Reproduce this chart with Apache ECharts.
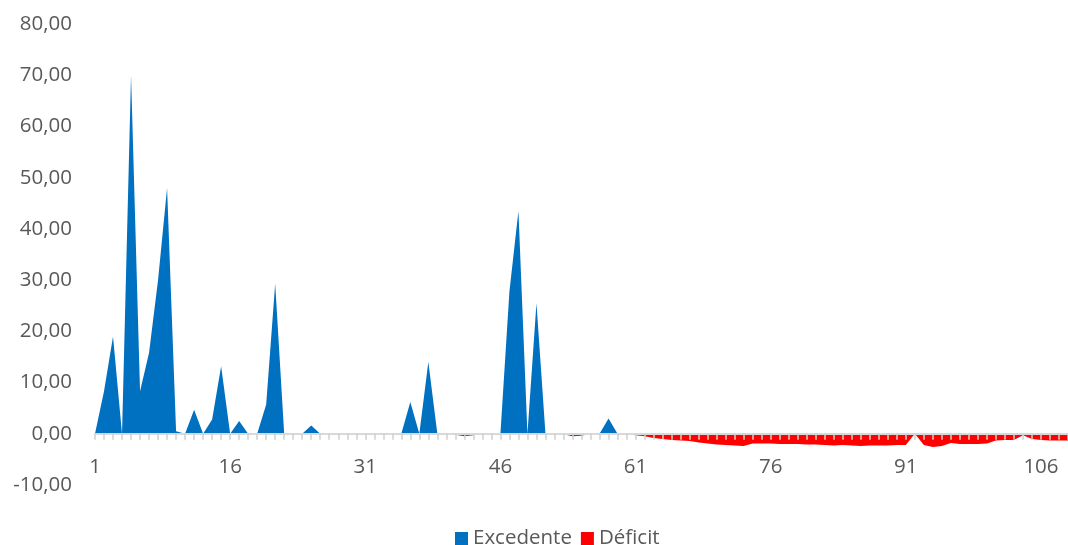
<!DOCTYPE html>
<html>
<head>
<meta charset="utf-8">
<script src="https://cdn.jsdelivr.net/npm/echarts@6/dist/echarts.min.js"></script>
<style>
html,body{margin:0;padding:0;background:#fff;}
#chart{width:1068px;height:545px;}
</style>
</head>
<body>
<div id="chart"></div>
<script>
const categories = [
  "1","2","3","4","5","6","7","8","9","10","11","12","13","14","15","16","17","18","19","20",
  "21","22","23","24","25","26","27","28","29","30","31","32","33","34","35","36","37","38","39","40",
  "41","42","43","44","45","46","47","48","49","50","51","52","53","54","55","56","57","58","59","60",
  "61","62","63","64","65","66","67","68","69","70","71","72","73","74","75","76","77","78","79","80",
  "81","82","83","84","85","86","87","88","89","90","91","92","93","94","95","96","97","98","99","100",
  "101","102","103","104","105","106","107","108","109"
];

const excedente = [
  0, 8.3, 19.0, 0, 70, 8.3, 15.8, 30, 48, 0.5,
  0, 4.7, 0, 2.8, 13.2, 0, 2.5, 0, 0, 5.7,
  29.3, 0, 0, 0, 1.6, 0, 0, 0, 0, 0,
  0, 0, 0, 0, 0, 6.2, 0, 14, 0, 0,
  0, 0, 0, 0, 0, 0, 27.8, 43.5, 0, 25.5,
  0, 0, 0, 0, 0, 0, 0, 3.0, 0, 0,
  0, 0, 0, 0, 0, 0, 0, 0, 0, 0,
  0, 0, 0, 0, 0, 0, 0, 0, 0, 0,
  0, 0, 0, 0, 0, 0, 0, 0, 0, 0,
  0, 0, 0, 0, 0, 0, 0, 0, 0, 0,
  0, 0, 0, 0, 0, 0, 0, 0, 0
];

const deficit = [
  0, 0, 0, 0, 0, 0, 0, 0, 0, 0,
  0, 0, 0, 0, 0, 0, 0, 0, 0, 0,
  0, 0, 0, 0, 0, 0, 0, 0, 0, 0,
  0, 0, 0, 0, 0, 0, 0, 0, 0, 0,
  -0.2, -0.5, -0.3, 0, 0, 0, 0, 0, 0, 0,
  0, 0, -0.1, -0.5, -0.4, 0, 0, 0, 0, -0.1,
  -0.3, -0.5, -0.8, -1.0, -1.2, -1.3, -1.4, -1.7, -1.9, -2.1,
  -2.2, -2.3, -2.4, -1.9, -1.9, -1.9, -2.0, -2.0, -2.0, -2.1,
  -2.1, -2.2, -2.3, -2.2, -2.3, -2.4, -2.3, -2.3, -2.3, -2.2,
  -2.2, 0, -2.2, -2.6, -2.4, -1.8, -2.0, -2.0, -2.0, -1.9,
  -1.3, -1.2, -1.2, -0.3, -1.0, -1.2, -1.3, -1.3, -1.3
];

const yMin = -10, yMax = 80, yStep = 10;
const seriesNames = ["Excedente", "Déficit"];
const FONT = "'Open Sans', sans-serif";

const chart = echarts.init(document.getElementById('chart'), null, {renderer: 'canvas'});
chart.setOption({
  animation: false,
  backgroundColor: '#ffffff',
  grid: {left: 95, right: -4, top: 24, bottom: 60, containLabel: false},
  legend: {
    data: seriesNames,
    left: 450,
    top: 523,
    icon: 'rect',
    itemWidth: 13,
    itemHeight: 13,
    itemGap: 9,
    textStyle: {color: '#595959', fontSize: 20.5, fontFamily: FONT}
  },
  xAxis: {
    type: 'category',
    data: categories,
    boundaryGap: false,
    z: 5,
    axisLine: {onZero: true, lineStyle: {color: '#D9D9D9', width: 2}},
    axisTick: {show: true, interval: 0, length: 6, lineStyle: {color: '#D0D0D0', width: 1.5}},
    axisLabel: {interval: 14, margin: -28, color: '#595959', fontSize: 20.5, fontFamily: FONT},
    splitLine: {show: false}
  },
  yAxis: {
    type: 'value',
    min: yMin, max: yMax, interval: yStep,
    axisLine: {show: false},
    axisTick: {show: false},
    splitLine: {show: false},
    axisLabel: {
      margin: 23, color: '#595959', fontSize: 20.5, fontFamily: FONT,
      formatter: v => v.toFixed(2).replace('.', ',')
    }
  },
  series: [
    {
      name: seriesNames[0], type: 'line', data: excedente,
      symbol: 'none', lineStyle: {width: 0}, color: '#0070C0',
      areaStyle: {color: '#0070C0', opacity: 1}, z: 2
    },
    {
      name: seriesNames[1], type: 'line', data: deficit,
      symbol: 'none', lineStyle: {width: 0}, color: '#FF0000',
      areaStyle: {color: '#FF0000', opacity: 1}, z: 2
    }
  ]
});
</script>
</body>
</html>
